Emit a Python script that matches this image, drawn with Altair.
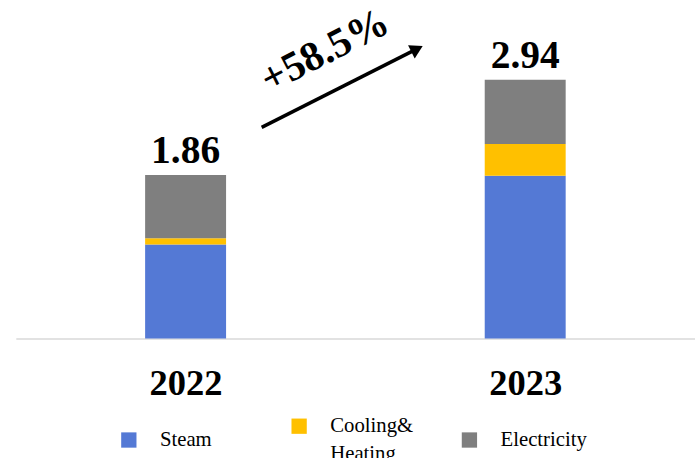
import altair as alt
import pandas as pd

# Consumption by energy source, per year
years = [2022, 2023]
sources = ["Steam", "Cooling& Heating", "Electricity"]
steam = [1.07, 1.85]
cooling_heating = [0.07, 0.36]
electricity = [0.72, 0.73]
colors = ["#5479D5", "#FFC000", "#7F7F7F"]

growth_label = ["+58.5%"]
# arrow drawn in data units: start (x, y) -> end (x2, y2)
arrow_x = [2022.224]
arrow_y = [2.40]
arrow_x2 = [2022.674]
arrow_y2 = [3.278]
head_x = [2022.676]
head_y = [3.28]
label_x = [2022.41]
label_y = [3.27]

rows = []
for i, yr in enumerate(years):
    for k, (name, vals) in enumerate(zip(sources, [steam, cooling_heating, electricity])):
        rows.append({"year": yr, "source": name, "value": vals[i], "idx": k})
df = pd.DataFrame(rows)

x_scale = alt.Scale(domain=[2021.5, 2023.5], nice=False, zero=False, padding=0)
y_scale = alt.Scale(domain=[0, 3.59], nice=False, padding=0)
x_axis = alt.Axis(values=years, format="d", title=None, grid=False,
                  ticks=False, labelFont="Liberation Serif",
                  labelFontWeight="bold", labelFontSize=37,
                  labelColor="black", labelPadding=28,
                  domainColor="#D9D9D9", domainWidth=1.5,
                  labelFlush=False)

bars = alt.Chart(df).mark_bar(width=82).encode(
    x=alt.X("year:Q", scale=x_scale, axis=x_axis),
    y=alt.Y("value:Q", stack="zero", scale=y_scale, axis=None),
    color=alt.Color("source:N",
                    scale=alt.Scale(domain=sources, range=colors),
                    legend=alt.Legend(
                        title=None, orient="none", direction="horizontal",
                        columns=3, legendX=104, legendY=398,
                        symbolType="square", symbolSize=240,
                        symbolStrokeWidth=0, labelFont="Liberation Serif",
                        labelFontSize=21, labelColor="black",
                        labelOffset=21, columnPadding=42.5, gridAlign="all",
                        padding=0, labelLimit=300,
                        labelExpr="split(datum.label, ' ')")),
    order=alt.Order("idx:Q", sort="ascending"),
)

totals = alt.Chart(df).transform_aggregate(
    total="sum(value)", groupby=["year"]
).mark_text(font="Liberation Serif", fontWeight="bold", fontSize=40,
            color="black", baseline="alphabetic", dy=-12).encode(
    x=alt.X("year:Q", scale=x_scale, axis=x_axis),
    y=alt.Y("total:Q", scale=y_scale, axis=None),
    text=alt.Text("total:Q", format=".2f"),
)

arrow_df = pd.DataFrame({"x": arrow_x, "y": arrow_y, "x2": arrow_x2, "y2": arrow_y2})
arrow = alt.Chart(arrow_df).mark_rule(color="black", strokeWidth=3.5).encode(
    x=alt.X("x:Q", scale=x_scale, axis=x_axis),
    y=alt.Y("y:Q", scale=y_scale, axis=None),
    x2="x2:Q", y2="y2:Q",
)

head_df = pd.DataFrame({"x": head_x, "y": head_y})
head = alt.Chart(head_df).mark_point(shape="triangle", filled=True, opacity=1,
                                     color="black", size=220, angle=63).encode(
    x=alt.X("x:Q", scale=x_scale, axis=x_axis),
    y=alt.Y("y:Q", scale=y_scale, axis=None),
)

label_df = pd.DataFrame({"x": label_x, "y": label_y, "t": growth_label})
growth = alt.Chart(label_df).mark_text(font="Liberation Serif", fontWeight="bold",
                                       fontSize=42, color="black", angle=333,
                                       align="center", baseline="middle").encode(
    x=alt.X("x:Q", scale=x_scale, axis=x_axis),
    y=alt.Y("y:Q", scale=y_scale, axis=None),
    text="t:N",
)

chart = alt.layer(bars, totals, arrow, head, growth).properties(
    width=688, height=320,
    autosize=alt.AutoSizeParams(type="none"),
    padding={"left": 16, "top": 20, "right": 0, "bottom": 118},
).configure_view(stroke=None)
# taller line spacing for the two-line legend label
chart.config.style = {"guide-label": {"lineHeight": 28}}

chart.save("out.html", embed_options={"renderer": "svg", "actions": False})
